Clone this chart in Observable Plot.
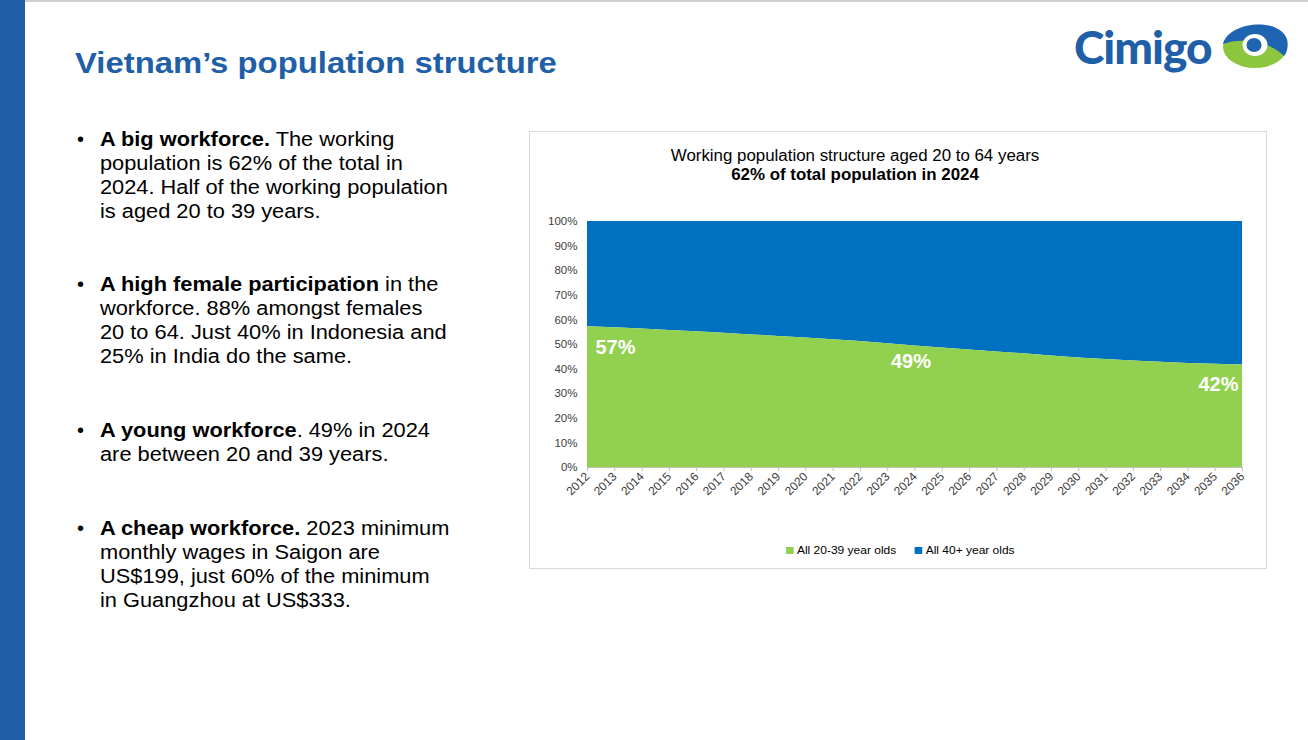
<!DOCTYPE html>
<html>
<head>
<meta charset="utf-8">
<script src="https://cdn.jsdelivr.net/npm/d3@7"></script>
<script src="https://cdn.jsdelivr.net/npm/@observablehq/plot@0.6"></script>
<style>
  html, body { margin: 0; padding: 0; background: #fff; }
  #page { position: relative; width: 1308px; height: 740px; overflow: hidden; background: #fff;
          font-family: "Liberation Sans", Arial, sans-serif; }
  #topline { position: absolute; left: 0; top: 0; width: 1308px; height: 2px; background: #cfcfcf; }
  #sidebar { position: absolute; left: 0; top: 0; width: 25px; height: 740px; background: #1f5fa8; }
  #title { position: absolute; left: 75px; top: 46px; font-size: 30px; font-weight: bold; color: #1f5fa8; white-space: nowrap;
           transform: scaleX(1.095); transform-origin: left top; }
  .bullet { position: absolute; left: 77px; font-size: 20px; line-height: 24px; color: #000; }
  .bullet .dot { position: absolute; left: 0; top: 0; }
  .bullet .txt { position: absolute; left: 23px; top: 0; white-space: nowrap; transform: scaleX(1.09); transform-origin: left top; }
  #chartbox { position: absolute; left: 529px; top: 131px; width: 738px; height: 438px; border: 1px solid #d9d9d9; box-sizing: border-box; }
  #ctitle { position: absolute; left: 529px; width: 652px; top: 146px; text-align: center; font-size: 16px; line-height: 19px; color: #000;
            transform: scaleX(1.055); transform-origin: 326px 0; }
  #plot { position: absolute; left: 529px; top: 200px; }
  #legend { position: absolute; top: 544px; left: 786px; font-size: 11px; color: #000; white-space: nowrap; display: flex; align-items: center;
            transform: scaleX(1.09); transform-origin: left top; }
  #legend .sw { display: inline-block; width: 7px; height: 7px; margin-right: 3px; }
  #logo { position: absolute; left: 1072px; top: 14px; }
</style>
</head>
<body>
<div id="page">
  <div id="topline"></div>
  <div id="sidebar"></div>
  <div id="title">Vietnam’s population structure</div>

  <div class="bullet" style="top:127px"><span class="dot">•</span><div class="txt"><b>A big workforce.</b> The working<br>population is 62% of the total in<br>2024. Half of the working population<br>is aged 20 to 39 years.</div></div>
  <div class="bullet" style="top:272px"><span class="dot">•</span><div class="txt"><b>A high female participation</b> in the<br>workforce. 88% amongst females<br>20 to 64. Just 40% in Indonesia and<br>25% in India do the same.</div></div>
  <div class="bullet" style="top:418px"><span class="dot">•</span><div class="txt"><b>A young workforce</b>. 49% in 2024<br>are between 20 and 39 years.</div></div>
  <div class="bullet" style="top:516px"><span class="dot">•</span><div class="txt"><b>A cheap workforce.</b> 2023 minimum<br>monthly wages in Saigon are<br>US$199, just 60% of the minimum<br>in Guangzhou at US$333.</div></div>

  <div id="chartbox"></div>
  <div id="ctitle">Working population structure aged 20 to 64 years<br><b>62% of total population in 2024</b></div>
  <div id="plot"></div>
  <div id="legend"></div>

  <svg id="logo" width="225" height="62" viewBox="0 0 225 62">
    <text x="2" y="50" font-family="Lato, 'Open Sans', sans-serif" font-weight="900" font-size="46" fill="#1f5fa8" letter-spacing="-1">Cimigo</text>
    <ellipse cx="183" cy="33" rx="32" ry="21" fill="#8cc63f"/>
    <path d="M151,30 C156,8 206,2 215,25 C217,34 214,40 212,42 C198,27 168,23 151,30 Z" fill="#1f64b0"/>
    <ellipse cx="183" cy="31" rx="12.5" ry="11" fill="#fff"/>
    <ellipse cx="182" cy="31" rx="7.5" ry="7" fill="#1f64b0"/>
  </svg>
</div>

<script>
// ---- Data ----
const years = [2012, 2013, 2014, 2015, 2016, 2017, 2018, 2019, 2020, 2021, 2022, 2023, 2024,
               2025, 2026, 2027, 2028, 2029, 2030, 2031, 2032, 2033, 2034, 2035, 2036];
// share of working population (20-64) aged 20-39, in %
const share2039 = [57.2, 56.8, 56.3, 55.7, 55.2, 54.6, 53.9, 53.3, 52.6, 51.9, 51.2, 50.3, 49.4,
                   48.6, 47.8, 47.0, 46.2, 45.3, 44.5, 43.9, 43.3, 42.8, 42.3, 42.0, 41.7];
const seriesNames = ["All 20-39 year olds", "All 40+ year olds"];
const seriesColors = ["#92d050", "#0070c0"];
const yTicks = [0, 10, 20, 30, 40, 50, 60, 70, 80, 90, 100];
const labelYears = [2012, 2024, 2036];

const data = years.map((y, i) => ({year: y, young: share2039[i]}));
const lab = (yr) => data.filter(d => d.year === yr);
const pct = d => Math.round(d.young) + "%";

const chart = Plot.plot({
  width: 738,
  height: 317,
  marginLeft: 58,
  marginRight: 25,
  marginTop: 21,
  marginBottom: 50,
  style: {fontFamily: "'Liberation Sans', Arial, sans-serif", fontSize: "11px", color: "#404040", background: "transparent", overflow: "visible"},
  x: {domain: [years[0], years[years.length - 1]], label: null},
  y: {domain: [0, 100], label: null},
  marks: [
    Plot.areaY(data, {x: "year", y1: "young", y2: 100, fill: seriesColors[1]}),
    Plot.areaY(data, {x: "year", y1: 0, y2: "young", fill: seriesColors[0]}),
    Plot.ruleY([0], {stroke: "#bfbfbf"}),
    Plot.axisY({ticks: yTicks, tickFormat: d => d + "%", tickSize: 0, tickPadding: 10, fill: "#404040", fontSize: 11.5}),
    Plot.axisX({ticks: years, tickFormat: "d", tickRotate: -45, tickSize: 4, tickPadding: 3, stroke: "#bfbfbf", fill: "#404040", fontSize: 12}),
    Plot.text(lab(labelYears[0]), {x: "year", y: "young", text: pct, textAnchor: "start", dx: 8, dy: 21, fill: "#fff", fontWeight: "bold", fontSize: 20}),
    Plot.text(lab(labelYears[1]), {x: "year", y: "young", text: pct, textAnchor: "middle", dx: -4, dy: 16, fill: "#fff", fontWeight: "bold", fontSize: 20}),
    Plot.text(lab(labelYears[2]), {x: "year", y: "young", text: pct, textAnchor: "end", dx: -4, dy: 20, fill: "#fff", fontWeight: "bold", fontSize: 20})
  ]
});
document.getElementById("plot").appendChild(chart);

const legend = document.getElementById("legend");
seriesNames.forEach((name, i) => {
  const item = document.createElement("span");
  item.style.display = "inline-flex";
  item.style.alignItems = "center";
  item.style.marginRight = i === 0 ? "17px" : "0";
  item.innerHTML = `<span class="sw" style="background:${seriesColors[i]}"></span>${name}`;
  legend.appendChild(item);
});
</script>
</body>
</html>
